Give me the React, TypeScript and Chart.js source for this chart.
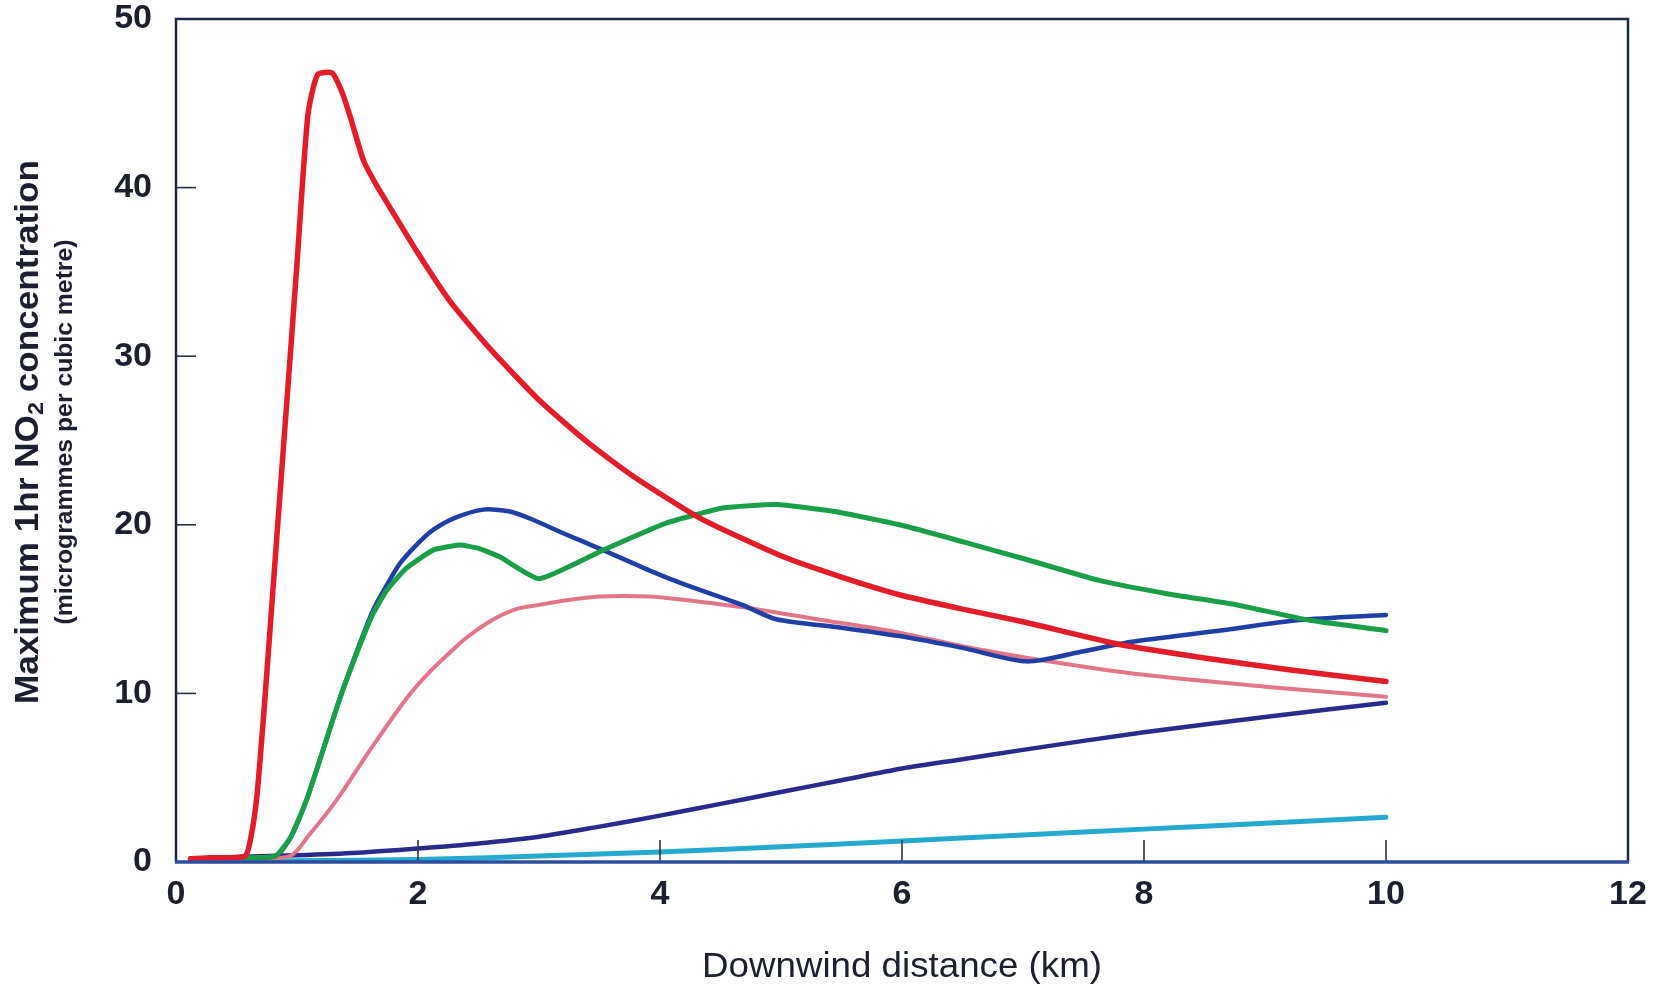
import React, { useEffect, useRef } from 'react';
import { Chart, registerables } from 'chart.js';

Chart.register(...registerables);

// ---------- data ----------
const xTicks = [0, 2, 4, 6, 8, 10, 12];
const yTicks = [0, 10, 20, 30, 40, 50];

const redX = [0.12, 0.3, 0.57, 0.62, 0.67, 0.735, 0.81, 0.886, 0.95, 1.0, 1.09, 1.17, 1.29, 1.37, 1.44, 1.55, 1.66, 1.77, 2.0, 2.26, 2.6, 3.0, 3.4, 3.775, 4.33, 5.02, 5.5, 5.98, 6.5, 7.0, 7.8, 8.5, 9.2, 10.0];
const redY = [0.2, 0.25, 0.35, 1.5, 4.0, 9.7, 17.0, 24.4, 30.6, 35.5, 44.3, 46.7, 46.8, 45.7, 44.2, 41.6, 40.1, 38.8, 36.1, 33.3, 30.4, 27.4, 24.9, 22.9, 20.4, 18.1, 16.9, 15.85, 15.0, 14.25, 12.9, 12.1, 11.4, 10.7];

const blueX = [0.12, 0.4, 0.82, 0.95, 1.08, 1.2, 1.354, 1.5, 1.63, 1.74, 1.85, 2.0, 2.125, 2.3, 2.54, 2.75, 2.95, 3.2, 3.53, 3.91, 4.19, 4.68, 4.96, 5.5, 5.98, 6.5, 7.03, 7.5, 7.9, 8.6, 9.28, 10.0];
const blueY = [0.2, 0.25, 0.35, 1.5, 3.7, 6.3, 9.7, 12.6, 14.95, 16.4, 17.7, 18.9, 19.7, 20.4, 20.9, 20.8, 20.3, 19.5, 18.5, 17.3, 16.5, 15.25, 14.4, 13.9, 13.4, 12.7, 11.9, 12.5, 13.06, 13.7, 14.35, 14.65];

const greenX = [0.12, 0.4, 0.82, 0.95, 1.08, 1.2, 1.354, 1.5, 1.62, 1.74, 1.9, 2.125, 2.345, 2.5, 2.675, 3.0, 3.53, 4.05, 4.52, 4.96, 5.43, 5.98, 6.5, 7.0, 7.63, 8.2, 8.73, 9.36, 10.0];
const greenY = [0.2, 0.25, 0.35, 1.5, 3.7, 6.3, 9.7, 12.5, 14.6, 16.1, 17.4, 18.5, 18.8, 18.6, 18.1, 16.8, 18.5, 20.1, 21.0, 21.2, 20.8, 20.0, 19.0, 18.0, 16.7, 15.9, 15.3, 14.35, 13.72];

const pinkX = [0.12, 0.5, 0.94, 1.1, 1.33, 1.6, 1.905, 2.1, 2.26, 2.4, 2.6, 2.81, 3.0, 3.2, 3.5, 3.91, 4.19, 4.74, 5.3, 5.98, 6.5, 7.13, 8.0, 9.0, 10.0];
const pinkY = [0.2, 0.25, 0.35, 1.6, 3.7, 6.6, 9.7, 11.3, 12.4, 13.3, 14.3, 15.0, 15.25, 15.5, 15.75, 15.75, 15.55, 15.05, 14.4, 13.6, 12.8, 12.0, 11.1, 10.4, 9.8];

const navyX = [0.12, 0.5, 1.0, 1.5, 2.0, 2.5, 3.0, 3.5, 4.0, 4.5, 5.0, 5.5, 6.0, 6.5, 7.0, 8.0, 9.0, 10.0];
const navyY = [0.2, 0.3, 0.4, 0.55, 0.8, 1.1, 1.5, 2.1, 2.75, 3.45, 4.15, 4.85, 5.55, 6.1, 6.65, 7.7, 8.6, 9.45];

const cyanX = [0.12, 1.0, 2.0, 3.0, 4.0, 5.0, 6.0, 7.0, 8.0, 9.0, 10.0];
const cyanY = [0.05, 0.08, 0.15, 0.35, 0.6, 0.9, 1.25, 1.6, 1.95, 2.3, 2.65];

const xTitle = 'Downwind distance (km)';
const yTitleParts = ['Maximum 1hr NO', '2', ' concentration'];
const ySubtitle = '(microgrammes per cubic metre)';

// ---------- styling ----------
const FONT = "'Liberation Sans', Arial, Helvetica, sans-serif";
const TEXT = '#1b1f2e';

function pts(xs: number[], ys: number[]) {
  return xs.map((x, i) => ({ x, y: ys[i] }));
}

type Seg = { text: string; font: string; dy: number };

function drawFitted(ctx: CanvasRenderingContext2D, segs: Seg[], cx: number, cy: number, rot: number, target: number) {
  ctx.save();
  let w = 0;
  const widths = segs.map((s) => {
    ctx.font = s.font;
    const m = ctx.measureText(s.text).width;
    w += m;
    return m;
  });
  const k = target / w;
  ctx.translate(cx, cy);
  ctx.rotate(rot);
  ctx.scale(k, 1);
  ctx.fillStyle = TEXT;
  ctx.textBaseline = 'alphabetic';
  ctx.textAlign = 'left';
  let x = -w / 2;
  segs.forEach((s, i) => {
    ctx.font = s.font;
    ctx.fillText(s.text, x, s.dy);
    x += widths[i];
  });
  ctx.restore();
}

const framePlugin = {
  id: 'framePlugin',
  afterDraw(chart: any) {
    const { ctx, chartArea: a, scales } = chart;
    const xs = scales.x;
    const ys = scales.y;
    ctx.save();
    // inward ticks
    ctx.strokeStyle = '#2b3142';
    ctx.lineWidth = 1.6;
    yTicks.forEach((v) => {
      if (v === yTicks[0] || v === yTicks[yTicks.length - 1]) return;
      const py = ys.getPixelForValue(v);
      ctx.beginPath();
      ctx.moveTo(a.left, py);
      ctx.lineTo(a.left + 20, py);
      ctx.stroke();
    });
    xTicks.forEach((v) => {
      if (v === xTicks[0] || v === xTicks[xTicks.length - 1]) return;
      const px = xs.getPixelForValue(v);
      ctx.beginPath();
      ctx.moveTo(px, a.bottom);
      ctx.lineTo(px, a.bottom - 22);
      ctx.stroke();
    });
    // frame
    ctx.strokeStyle = '#1d2a44';
    ctx.lineWidth = 2.5;
    ctx.beginPath();
    ctx.moveTo(a.left, a.bottom);
    ctx.lineTo(a.left, a.top);
    ctx.lineTo(a.right, a.top);
    ctx.lineTo(a.right, a.bottom);
    ctx.stroke();
    ctx.strokeStyle = '#2c4c9e';
    ctx.lineWidth = 3.5;
    ctx.beginPath();
    ctx.moveTo(a.left - 1, a.bottom);
    ctx.lineTo(a.right + 1, a.bottom);
    ctx.stroke();
    ctx.restore();

    // titles
    const cx = (a.left + a.right) / 2;
    drawFitted(ctx, [{ text: xTitle, font: `normal 35px ${FONT}`, dy: 0 }], cx, 977, 0, 400);
    drawFitted(
      ctx,
      [
        { text: yTitleParts[0], font: `bold 33px ${FONT}`, dy: 0 },
        { text: yTitleParts[1], font: `bold 22px ${FONT}`, dy: 5 },
        { text: yTitleParts[2], font: `bold 33px ${FONT}`, dy: 0 },
      ],
      38,
      432,
      -Math.PI / 2,
      544
    );
    drawFitted(ctx, [{ text: ySubtitle, font: `bold 23px ${FONT}`, dy: 0 }], 72, 432, -Math.PI / 2, 385);
  },
};

export default function App() {
  const ref = useRef<HTMLCanvasElement | null>(null);

  useEffect(() => {
    if (!ref.current) return;
    const tickFont = { family: FONT, size: 34, weight: 'bold' as const };
    const line = (data: any, color: string, width: number, tension: number) => ({
      data,
      borderColor: color,
      backgroundColor: color,
      borderWidth: width,
      pointRadius: 0,
      tension,
      fill: false,
      borderCapStyle: 'round' as const,
      borderJoinStyle: 'round' as const,
    });
    const chart = new Chart(ref.current, {
      type: 'line',
      data: {
        datasets: [
          line(pts(redX, redY), '#e31c2a', 5.5, 0.2),
          line(pts(greenX, greenY), '#1a9e48', 5, 0.15),
          line(pts(blueX, blueY), '#1f3ea6', 4.5, 0.25),
          line(pts(pinkX, pinkY), '#e2758a', 4, 0.3),
          line(pts(navyX, navyY), '#2a2a8c', 4.5, 0.3),
          line(pts(cyanX, cyanY), '#25a9cf', 5, 0.3),
        ],
      },
      options: {
        animation: false,
        responsive: false,
        devicePixelRatio: 1,
        layout: { padding: { top: 19, right: 25, left: 0, bottom: 0 } },
        plugins: { legend: { display: false }, tooltip: { enabled: false }, title: { display: false } },
        scales: {
          x: {
            type: 'linear',
            min: 0,
            max: 12,
            ticks: { stepSize: 2, padding: 12, color: TEXT, font: tickFont },
            grid: { display: false, drawTicks: false },
            border: { display: false },
            afterFit: (s: any) => {
              s.height = 124;
              s.paddingLeft = 0;
              s.paddingRight = 0;
            },
          },
          y: {
            type: 'linear',
            min: 0,
            max: 50,
            ticks: { stepSize: 10, padding: 24, color: TEXT, font: tickFont },
            grid: { display: false, drawTicks: false },
            border: { display: false },
            afterFit: (s: any) => {
              s.width = 176;
              s.paddingTop = 0;
              s.paddingBottom = 0;
            },
          },
        },
      },
      plugins: [framePlugin],
    });
    return () => chart.destroy();
  }, []);

  return (
    <div style={{ position: 'fixed', left: 0, top: 0, width: 1653, height: 986, background: '#ffffff' }}>
      <canvas ref={ref} width={1653} height={986} style={{ width: 1653, height: 986, display: 'block' }} />
    </div>
  );
}
